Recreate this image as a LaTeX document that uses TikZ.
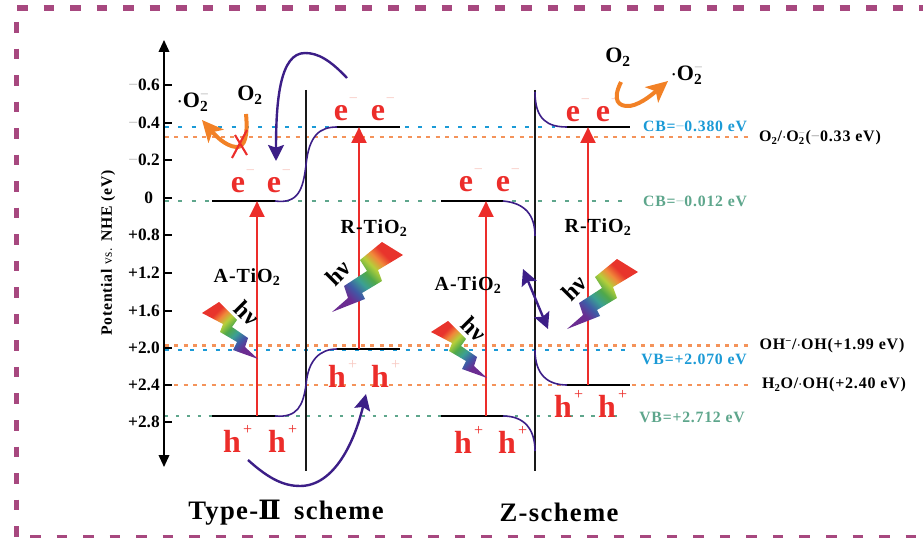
\documentclass[tikz,border=0pt]{standalone}
\usepackage{fontspec}
\usepackage{xcolor}
\setmainfont{Liberation Serif}
\newfontfamily\spacedfont[LetterSpace=5]{Liberation Serif}
\newfontfamily\numeralfont{DejaVu Serif}
\usetikzlibrary{
  arrows.meta,
  positioning,
  calc
}
\definecolor{bvRed}{HTML}{EC2D2A}
\definecolor{bvPale}{HTML}{F8C9C2}
\definecolor{bvPurple}{HTML}{3C1E87}
\definecolor{bvOrange}{HTML}{F28126}
\definecolor{bvLine}{HTML}{F4935A}
\definecolor{bvBlue}{HTML}{1B9AD6}
\definecolor{bvGreen}{HTML}{5EA68C}
\definecolor{bvBorder}{HTML}{A7487F}
\definecolor{bvFaint}{HTML}{B8B8B8}
\definecolor{rbPurple}{HTML}{6B2C91}
\definecolor{rbBlue}{HTML}{3F5AA6}
\definecolor{rbTeal}{HTML}{3B9F94}
\definecolor{rbGreen}{HTML}{4FA84A}
\definecolor{rbLime}{HTML}{B5CF3A}
\definecolor{rbOrange}{HTML}{F0883A}
\definecolor{rbRed}{HTML}{E8342C}
\pgfdeclareverticalshading{hvrainbow}{100bp}{
  color(0bp)=(rbPurple);
  color(30bp)=(rbPurple);
  color(37bp)=(rbBlue);
  color(44bp)=(rbTeal);
  color(51bp)=(rbGreen);
  color(58bp)=(rbLime);
  color(64bp)=(rbOrange);
  color(70bp)=(rbRed);
  color(100bp)=(rbRed)
}
\newcommand{\oxrad}{$\cdot$O\rlap{\textsubscript{2}}\textsuperscript{\color{bvFaint}\mdseries\char"2212}}
\newcommand{\oxtwo}{O\textsubscript{2}}
\newcommand{\chgmark}[2]{\rlap{\kern#1\raisebox{13pt}{\fontsize{12}{12}\selectfont\mdseries\color{#2}\char"2212}}}
\newcommand{\plusmark}[2]{\rlap{\kern#1\raisebox{13pt}{\fontsize{12}{12}\selectfont\mdseries\color{#2}+}}}
\tikzset{
  frameline/.style={bvBorder, line width=#1},
  axisline/.style={{Triangle[length=9pt,width=8pt]}-{Triangle[length=9pt,width=8pt]}, line width=1.2pt, black},
  ticktext/.style={font=\fontsize{13}{14}\selectfont\bfseries, anchor=east, inner sep=0pt},
  bandlevel/.style={line width=1.5pt, black},
  bandbend/.style={line width=1.2pt, bvPurple},
  divider/.style={line width=1.3pt, black!90},
  excite/.style={-{Triangle[length=12pt,width=11pt]}, line width=2.2pt, bvRed},
  transfer/.style={-{Stealth[length=12pt,width=12pt,inset=2pt]}, line width=1.8pt, bvPurple},
  radical/.style={-{Stealth[length=16pt,width=15pt,inset=4pt]}, line width=3pt, bvOrange},
  chargetext/.style={font=\fontsize{24}{26}\selectfont\bfseries, text=bvRed, anchor=base, inner sep=0pt},
  speciestext/.style={font=\fontsize{16.5}{18}\selectfont\bfseries, inner sep=0pt},
  oxidetext/.style={font=\fontsize{15}{17}\selectfont\spacedfont\bfseries, inner sep=0pt},
  hvtext/.style={font=\fontsize{18}{19}\selectfont\bfseries, inner sep=0pt},
  edgetext/.style={font=\fontsize{11.8}{14}\selectfont\spacedfont\bfseries, inner sep=0pt},
  redoxtext/.style={font=\fontsize{12}{14}\selectfont\spacedfont\bfseries, inner sep=0pt},
  titletext/.style={font=\fontsize{20}{22}\selectfont\spacedfont\bfseries, inner sep=0pt},
  boltleft/.pic={
    \shade[shading=hvrainbow, shading angle=45]
      (-56,-46) -- (-39,-57) -- (-21,-39) -- (-26,-32) -- (-10,-21) -- (-13,-12) -- (0,0)
      -- (-25,-9) -- (-21,-17) -- (-38,-27) -- (-35,-35) -- cycle;
  },
  boltright/.pic={
    \shade[shading=hvrainbow, shading angle=-45]
      (50,-70) -- (71,-57) -- (46,-42) -- (50,-31) -- (30,-19) -- (33,-13) -- (0,0)
      -- (16,-14) -- (12,-26) -- (35,-41) -- (28,-52) -- cycle;
  }
}
\begin{document}
\begin{tikzpicture}[x=0.75pt, y=-0.75pt]
  \useasboundingbox (0,0) rectangle (923,538);
  % frame
  \coordinate (ftl) at (17,8);
  \coordinate (ftr) at (923,8);
  \coordinate (fsl) at (16.5,22);
  \coordinate (fsb) at (16.5,538);
  \coordinate (fbl) at (30,536.5);
  \coordinate (fbr) at (923,536.5);
  \draw[frameline=4.5pt, dash pattern=on 7.9pt off 12pt] (ftl) -- (ftr);
  \draw[frameline=4pt, dash pattern=on 7.9pt off 12pt] (fsl) -- (fsb);
  \draw[frameline=3pt, dash pattern=on 7.9pt off 12pt] (fbl) -- (fbr);
  % reference levels
  \foreach \nm/\ypos/\xend/\col/\wid/\dashon/\dashoff in {
    cbr/127/555/bvBlue/2/3/7,
    oxa/137/750/bvLine/1.8/3/4,
    cba/201/627/bvGreen/1.6/3/7,
    oha/345.5/750/bvLine/1.8/3/4,
    vbr/350/628/bvBlue/1.2/3/6.5,
    hyd/385/750/bvLine/1.8/3/4,
    vba/416/620/bvGreen/1/2.5/5.7}{
    \coordinate (\nm l) at (165,\ypos);
    \coordinate (\nm r) at (\xend,\ypos);
    \draw[\col, line width=\wid pt, dash pattern=on \dashon pt off \dashoff pt] (\nm l) -- (\nm r);
  }
  % axis
  \coordinate (axtop) at (164,40);
  \coordinate (axbot) at (164,467);
  \draw[axisline] (axbot) -- (axtop);
  \foreach \nm/\ypos/\lab in {
    ta/85/{{\color{bvFaint}\mdseries\char"2212}0.6},
    tb/123/{{\color{bvFaint}\mdseries\char"2212}0.4},
    tc/160/{{\color{bvFaint}\mdseries\char"2212}0.2},
    td/198/{0\kern5pt},
    te/235/{+0.8},
    tf/273/{+1.2},
    tg/311/{+1.6},
    th/348/{+2.0},
    ti/385/{+2.4},
    tj/422/{+2.8}}{
    \coordinate (\nm a) at (164,\ypos);
    \coordinate (\nm b) at (172,\ypos);
    \draw[line width=1.2pt] (\nm a) -- (\nm b);
    \node[ticktext] (\nm) at (160,\ypos) {\lab};
  }
  \node[rotate=90, font=\fontsize{11.8}{14}\selectfont\spacedfont\bfseries, inner sep=0pt] (yname) at (108,253)
    {Potential {\fontsize{10}{12}\selectfont\mdseries vs.} NHE (eV)};
  % dividers
  \coordinate (dia) at (306,90);
  \coordinate (dib) at (306,471);
  \coordinate (dza) at (535,90);
  \coordinate (dzb) at (535,471);
  \draw[divider] (dia) -- (dib);
  \draw[divider] (dza) -- (dzb);
  % band levels, type-II
  \coordinate (acbl) at (212,201);
  \coordinate (acbr) at (275,201);
  \coordinate (rcbl) at (337,127);
  \coordinate (rcbr) at (400,127);
  \coordinate (avbl) at (212,416);
  \coordinate (avbr) at (275,416);
  \coordinate (rvbl) at (337,349);
  \coordinate (rvbr) at (400,349);
  \draw[bandlevel] (acbl) -- (acbr);
  \draw[bandlevel] (rcbl) -- (rcbr);
  \draw[bandlevel] (avbl) -- (avbr);
  \draw[bandlevel] (rvbl) -- (rvbr);
  \draw[bandbend] (acbr) .. controls (298,204) and (303,190) .. (306,165) .. controls (309,135) and (320,127) .. (rcbl);
  \draw[bandbend] (avbr) .. controls (298,418) and (303,405) .. (306,385) .. controls (308,360) and (320,349) .. (rvbl);
  % band levels, z-scheme
  \coordinate (zacbl) at (441,201);
  \coordinate (zacbr) at (503,201);
  \coordinate (zrcbl) at (567,127);
  \coordinate (zrcbr) at (630,127);
  \coordinate (zavbl) at (441,416);
  \coordinate (zavbr) at (503,416);
  \coordinate (zrvbl) at (567,385);
  \coordinate (zrvbr) at (630,385);
  \coordinate (zbenda) at (535,236);
  \coordinate (zbendb) at (535,92);
  \coordinate (zbendc) at (535,451);
  \coordinate (zbendd) at (535,350);
  \draw[bandlevel] (zacbl) -- (zacbr);
  \draw[bandlevel] (zrcbl) -- (zrcbr);
  \draw[bandlevel] (zavbl) -- (zavbr);
  \draw[bandlevel] (zrvbl) -- (zrvbr);
  \draw[bandbend] (zacbr) .. controls (525,203) and (535,215) .. (zbenda);
  \draw[bandbend] (zrcbl) .. controls (548,127) and (535,120) .. (zbendb);
  \draw[bandbend] (zavbr) .. controls (525,416) and (535,430) .. (zbendc);
  \draw[bandbend] (zrvbl) .. controls (548,385) and (535,375) .. (zbendd);
  % excitation
  \coordinate (xa) at (257,416);
  \coordinate (xb) at (257,201);
  \coordinate (xc) at (359,349);
  \coordinate (xd) at (359,127);
  \coordinate (xe) at (486,416);
  \coordinate (xf) at (486,201);
  \coordinate (xg) at (588,385);
  \coordinate (xh) at (588,127);
  \draw[excite] (xa) -- (xb);
  \draw[excite] (xc) -- (xd);
  \draw[excite] (xe) -- (xf);
  \draw[excite] (xg) -- (xh);
  % light
  \pic at (258,359) {boltleft};
  \pic at (487,378) {boltleft};
  \pic at (332,312) {boltright};
  \pic at (567,329) {boltright};
  \node[hvtext, rotate=-45] (hva) at (247,313) {hν};
  \node[hvtext, rotate=-45] (hvb) at (474,329) {hν};
  \node[hvtext, rotate=45] (hvc) at (338,273) {hν};
  \node[hvtext, rotate=45] (hvd) at (574,288) {hν};
  % charges
  \foreach \nm/\xpos/\ypos/\col in {
    ea/238/193/bvPale, eb/274/193/bvPale, ec/341/121/bvPale, ed/378/121/bvPale,
    ee/466/192/bvPale, ef/503/192/bvPale, eg/573/122/bvPale, eh/603/122/bvPale}{
    \node[chargetext] (\nm) at (\xpos,\ypos) {e\chgmark{0.5pt}{\col}};
  }
  \foreach \nm/\xpos/\ypos/\col in {
    ha/232/452/bvRed, hb/277/452/bvRed, hc/337/387/bvPale, hd/380/387/bvPale,
    he/463/453/bvRed, hf/507/453/bvRed, hg/563/417/bvRed, hh/607/417/bvRed}{
    \node[chargetext] (\nm) at (\xpos,\ypos) {h\plusmark{1.6pt}{\col}};
  }
  % species
  \node[speciestext] (oxa) at (250,95) {\oxtwo};
  \node[speciestext] (rada) at (193,102) {\oxrad};
  \node[speciestext] (oxb) at (618,57) {\oxtwo};
  \node[speciestext] (radb) at (687,75) {\oxrad};
  \coordinate (oaa) at (246,114);
  \coordinate (oab) at (202,120);
  \coordinate (oba) at (621,82);
  \coordinate (obb) at (668,81);
  \draw[radical] (oaa) .. controls (248,135) and (245,148) .. (236,147) .. controls (225,146) and (215,135) .. (oab);
  \draw[radical] (oba) .. controls (612,100) and (618,107) .. (630,106) .. controls (642,104) and (655,92) .. (obb);
  \coordinate (cra) at (232,158);
  \coordinate (crb) at (247,130);
  \coordinate (crc) at (235,135);
  \coordinate (crd) at (247,155);
  \draw[bvRed, line width=1.6pt] (cra) -- (crb);
  \draw[bvRed, line width=1.6pt] (crc) -- (crd);
  % carrier transfer
  \coordinate (tra) at (347,78);
  \coordinate (trb) at (276,161);
  \coordinate (trc) at (248,460);
  \coordinate (trd) at (366,394);
  \coordinate (tre) at (523,269);
  \coordinate (trf) at (548,329);
  \draw[transfer] (tra) .. controls (330,60) and (318,53) .. (305,53) .. controls (280,53) and (276,100) .. (trb);
  \draw[transfer] (trc) .. controls (270,480) and (285,486) .. (300,486) .. controls (335,486) and (355,440) .. (trd);
  \draw[transfer, {Stealth[length=12pt,width=12pt,inset=2pt]}-{Stealth[length=12pt,width=12pt,inset=2pt]}] (tre) -- (trf);
  % oxide names
  \node[oxidetext] (atia) at (247,277) {A-TiO\textsubscript{2}};
  \node[oxidetext] (rtia) at (374,228) {R-TiO\textsubscript{2}};
  \node[oxidetext] (atib) at (468,285) {A-TiO\textsubscript{2}};
  \node[oxidetext] (rtib) at (598,227) {R-TiO\textsubscript{2}};
  % edge values
  \node[edgetext, text=bvBlue] (ecbr) at (695,126) {CB={\color{bvBlue!40}\char"2212}0.380 eV};
  \node[edgetext, text=bvGreen] (ecba) at (695,201) {CB={\color{bvGreen!40}\char"2212}0.012 eV};
  \node[edgetext, text=bvBlue] (evbr) at (694,359) {VB=+2.070 eV};
  \node[edgetext, text=bvGreen] (evba) at (692,417) {VB=+2.712 eV};
  \node[redoxtext] (rdox) at (820,138) {O\textsubscript{2}/$\cdot$O\rlap{\textsubscript{2}}\textsuperscript{\color{bvFaint}\char"2212}({\color{bvFaint}\char"2212}0.33 eV)};
  \node[redoxtext] (rdoh) at (832,346) {OH\textsuperscript{\char"2212}/$\cdot$OH(+1.99 eV)};
  \node[redoxtext] (rdhy) at (834,385) {H\textsubscript{2}O/$\cdot$OH(+2.40 eV)};
  % titles
  \node[titletext] (ttwo) at (286,513) {Type-{\numeralfont\bfseries Ⅱ}\kern4pt\ scheme};
  \node[titletext] (tzed) at (559,512) {Z-scheme};
\end{tikzpicture}
\end{document}
